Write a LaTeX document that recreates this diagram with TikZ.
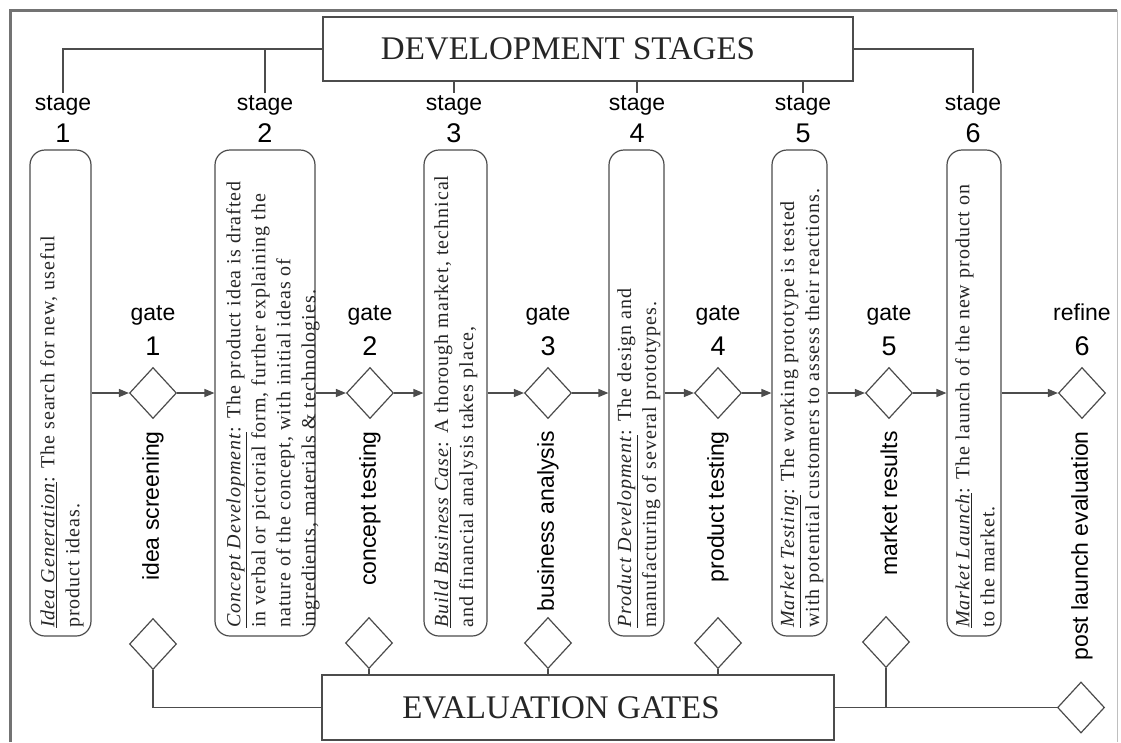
\documentclass[tikz,border=0pt]{standalone}
\usepackage{fontspec}
\setmainfont{Liberation Serif}
\setsansfont{Liberation Sans}
\newfontfamily\descfont[LetterSpace=5]{Liberation Serif}
\usetikzlibrary{arrows.meta,shapes.geometric}

\begin{document}
\begin{tikzpicture}[x=1pt,y=-1pt,
  line/.style={draw=black!70, line width=1.3pt},
  flow/.style={line, -{Triangle[length=10pt,width=8pt]}},
  stagebox/.style={draw=black!70, line width=1.2pt, rounded corners=15pt,
    minimum height=486pt, inner sep=0pt},
  gatebox/.style={diamond, draw=black!70, line width=1.2pt,
    minimum width=47pt, minimum height=51pt, inner sep=0pt},
  titlebox/.style={draw=black!70, line width=1.2pt, inner sep=0pt},
  titletext/.style={inner sep=0pt, font=\fontsize{33}{36}\selectfont, text=black!85},
  desc/.style={rotate=90, anchor=north west, align=left, inner sep=0pt,
    font=\descfont\fontsize{20}{25}\selectfont, text=black!85},
  stagelab/.style={anchor=base, font=\sffamily\fontsize{23}{26}\selectfont, inner sep=1.5pt},
  stagenum/.style={anchor=base, font=\sffamily\fontsize{27}{30}\selectfont, inner sep=0pt},
  gatename/.style={rotate=90, anchor=east, inner sep=0pt,
    font=\sffamily\fontsize{23}{26}\selectfont},
]
% canvas and frame
\fill[white] (0,0) rectangle (1121,742);
\useasboundingbox (0,0) rectangle (1121,742);
\draw[black!55, line width=3pt] (10,742) -- (10,10) -- (1117,10);
\draw[black!25, line width=1pt] (1117,10) -- (1117,742);

% title boxes
\node[titlebox, minimum width=530pt, minimum height=64pt] (dev) at (588,49) {};
\node[titletext] (devt) at (568,49) {DEVELOPMENT STAGES};
\node[titlebox, minimum width=512pt, minimum height=65pt] (evl) at (578,707.5) {};
\node[titletext] (evlt) at (561,707.5) {EVALUATION GATES};

% stage headings
\foreach \n/\x in {1/63, 2/265, 3/454, 4/637, 5/803, 6/973} {
  \node[stagelab] (st\n) at (\x,110) {stage};
  \node[stagenum] (sn\n) at (\x,142) {\n};
}

% stage boxes
\node[stagebox, minimum width=61pt]  (s1) at (60.5,393) {};
\node[stagebox, minimum width=100pt] (s2) at (265,393) {};
\node[stagebox, minimum width=63pt]  (s3) at (455.5,393) {};
\node[stagebox, minimum width=55pt]  (s4) at (636.5,393) {};
\node[stagebox, minimum width=55pt]  (s5) at (799.5,393) {};
\node[stagebox, minimum width=54pt]  (s6) at (974,393) {};

% stage descriptions
\node[desc] (d1) at (40,628) {\underline{\textit{Idea Generation}}: The search for new, useful\\product ideas.};
\node[desc] (d2) at (226,628) {\underline{\textit{Concept Development}}: The product idea is drafted\\in verbal or pictorial form, further explaining the\\nature of the concept, with initial ideas of\\ingredients, materials \& technologies.};
\node[desc] (d3) at (434,628) {\underline{\textit{Build Business Case}}: A thorough market, technical\\and financial analysis takes place,};
\node[desc] (d4) at (617,628) {\underline{\textit{Product Development}}: The design and\\manufacturing of several prototypes.};
\node[desc] (d5) at (780,628) {\underline{\textit{Market Testing}}: The working prototype is tested\\with potential customers to assess their reactions.};
\node[desc] (d6) at (955,628) {\underline{\textit{Market Launch}}: The launch of the new product on\\to the market.};

% gates on the flow line
\foreach \n/\x/\w in {1/153/gate, 2/370/gate, 3/548/gate, 4/718/gate, 5/889/gate, 6/1082/refine} {
  \node[gatebox] (g\n) at (\x,393) {};
  \node[stagelab] (gl\n) at (\x,320) {\w};
  \node[stagenum] (gn\n) at (\x,355) {\n};
}

% gate names
\node[gatename] (n1) at (153,431) {idea screening};
\node[gatename] (n2) at (370,431) {concept testing};
\node[gatename] (n3) at (548,431) {business analysis};
\node[gatename] (n4) at (718,431) {product testing};
\node[gatename] (n5) at (889,431) {market results};
\node[gatename] (n6) at (1082,431) {post launch evaluation};

% evaluation diamonds
\node[gatebox] (e1) at (153,644) {};
\node[gatebox] (e2) at (369,643) {};
\node[gatebox] (e3) at (548,643) {};
\node[gatebox] (e4) at (718,643) {};
\node[gatebox] (e5) at (886,642) {};
\node[gatebox] (e6) at (1081,707.5) {};

% flow arrows
\draw[flow] (s1.east) -- (g1.west);
\draw[flow] (g1.east) -- (s2.west);
\draw[flow] (s2.east) -- (g2.west);
\draw[flow] (g2.east) -- (s3.west);
\draw[flow] (s3.east) -- (g3.west);
\draw[flow] (g3.east) -- (s4.west);
\draw[flow] (s4.east) -- (g4.west);
\draw[flow] (g4.east) -- (s5.west);
\draw[flow] (s5.east) -- (g5.west);
\draw[flow] (g5.east) -- (s6.west);
\draw[flow] (s6.east) -- (g6.west);

% development stage connectors
\draw[line] (dev.west) -| (st1.north);
\draw[line] (st2.north) -- (st2.north |- dev.west);
\draw[line] (st3.north |- dev.south) -- (st3.north);
\draw[line] (st4.north |- dev.south) -- (st4.north);
\draw[line] (st5.north |- dev.south) -- (st5.north);
\draw[line] (dev.east) -| (st6.north);

% evaluation gate connectors
\draw[line] (e1.south) |- (evl.west);
\draw[line] (e2.south) -- (e2.south |- evl.north);
\draw[line] (e3.south) -- (e3.south |- evl.north);
\draw[line] (e4.south) -- (e4.south |- evl.north);
\draw[line] (e5.south) -- (e5.south |- evl.east);
\draw[line] (evl.east) -- (e6.west);
\end{tikzpicture}
\end{document}
